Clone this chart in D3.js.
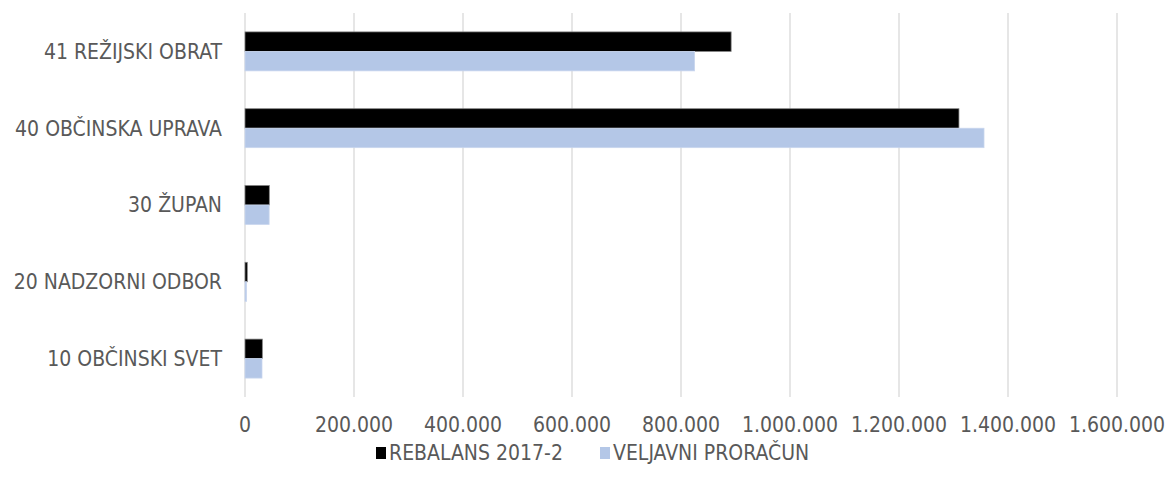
<!DOCTYPE html>
<html>
<head>
<meta charset="utf-8">
<script src="https://cdn.jsdelivr.net/npm/d3@7"></script>
<style>
  body { margin: 0; background: #fff; }
  text { font-family: "Liberation Sans Narrow", "DejaVu Sans Condensed", "Arial Narrow", sans-serif; fill: #595959; }
</style>
</head>
<body>
<div id="chart"></div>
<script>
// data
var categories = ["41 REŽIJSKI OBRAT", "40 OBČINSKA UPRAVA", "30 ŽUPAN", "20 NADZORNI ODBOR", "10 OBČINSKI SVET"];
var seriesNames = ["REBALANS 2017-2", "VELJAVNI PRORAČUN"];
var rebalans = [892000, 1310000, 44600, 4200, 31800];
var veljavni = [825000, 1356000, 44300, 3000, 31200];
var xTicks = [0, 200000, 400000, 600000, 800000, 1000000, 1200000, 1400000, 1600000];
var colours = ["#000000", "#b4c7e7"];

var W = 1168, H = 490;
var margin = {top: 13, right: 51, bottom: 93, left: 245};

var svg = d3.select("#chart").append("svg")
  .attr("width", W).attr("height", H);

var xScale = d3.scaleLinear()
  .domain([0, 1600000])
  .range([margin.left, W - margin.right]);

var yScale = d3.scaleBand()
  .domain(categories)
  .range([margin.top, H - margin.bottom])
  .paddingInner(0);

var ySub = d3.scaleBand()
  .domain(seriesNames)
  .range([0, yScale.bandwidth()])
  .paddingInner(0)
  .paddingOuter(0.97);

// number format with dots
var fmt = function(v) {
  return d3.format(",")(v).replace(/,/g, ".");
};

// gridlines
svg.append("g").selectAll("line")
  .data(xTicks)
  .enter().append("line")
  .attr("x1", function(d) { return xScale(d); })
  .attr("x2", function(d) { return xScale(d); })
  .attr("y1", margin.top)
  .attr("y2", H - margin.bottom)
  .attr("stroke", "#d9d9d9")
  .attr("stroke-width", 1.3);

// bars
var rows = categories.map(function(c, i) {
  return {cat: c, values: [rebalans[i], veljavni[i]]};
});

var groups = svg.append("g").selectAll("g")
  .data(rows)
  .enter().append("g")
  .attr("transform", function(d) { return "translate(0," + yScale(d.cat) + ")"; });

groups.selectAll("rect")
  .data(function(d) { return d.values.map(function(v, j) { return {s: seriesNames[j], v: v, j: j}; }); })
  .enter().append("rect")
  .attr("x", xScale(0))
  .attr("y", function(d) { return ySub(d.s); })
  .attr("width", function(d) { return xScale(d.v) - xScale(0); })
  .attr("height", ySub.bandwidth())
  .attr("fill", function(d) { return colours[d.j]; })
  .attr("stroke", function(d) { return d.j === 0 ? "#808080" : "#c9d6ee"; })
  .attr("stroke-width", 0.75);

// category labels
svg.append("g").selectAll("text")
  .data(categories)
  .enter().append("text")
  .attr("x", margin.left - 23)
  .attr("y", function(d) { return yScale(d) + yScale.bandwidth() / 2; })
  .attr("dy", "0.35em")
  .attr("text-anchor", "end")
  .attr("font-size", "21px")
  .text(function(d) { return d; });

// x tick labels
svg.append("g").selectAll("text")
  .data(xTicks)
  .enter().append("text")
  .attr("x", function(d) { return xScale(d); })
  .attr("y", 425)
  .attr("dy", "0.35em")
  .attr("text-anchor", "middle")
  .attr("font-size", "21px")
  .text(function(d) { return fmt(d); });

// legend
var legendX = [376, 600];
var legend = svg.append("g").selectAll("g")
  .data(seriesNames)
  .enter().append("g")
  .attr("transform", function(d, i) { return "translate(" + legendX[i] + ",453)"; });

legend.append("rect")
  .attr("x", 0).attr("y", -6)
  .attr("width", 10).attr("height", 12)
  .attr("fill", function(d, i) { return colours[i]; });

legend.append("text")
  .attr("x", 13)
  .attr("dy", "0.35em")
  .attr("font-size", "21px")
  .text(function(d) { return d; });
</script>
</body>
</html>
